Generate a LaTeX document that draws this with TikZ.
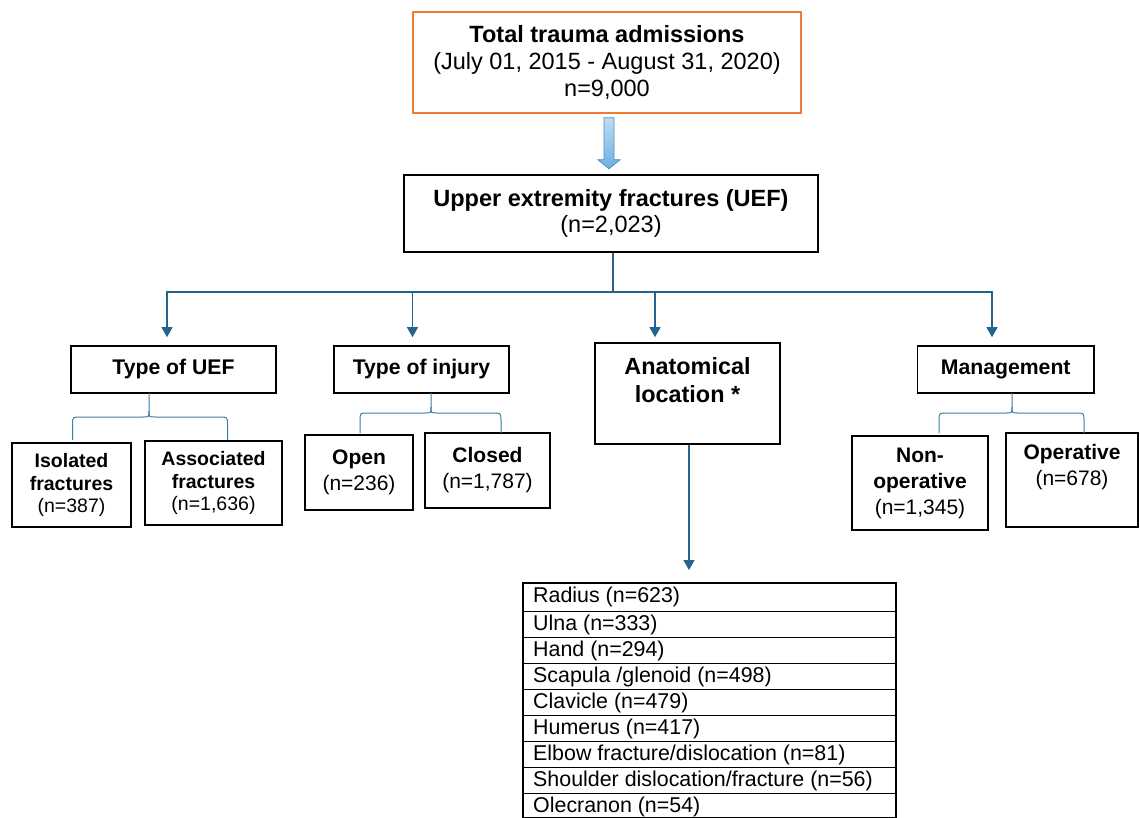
\documentclass[tikz,border=0pt]{standalone}
\usepackage{fontspec}
\setmainfont{Liberation Sans}
\usetikzlibrary{arrows.meta,calc}
\definecolor{conn}{RGB}{38,100,142}
\definecolor{brc}{RGB}{60,125,165}
\definecolor{orng}{HTML}{ED7D31}
\definecolor{arrtop}{HTML}{C2DCF2}
\definecolor{arrbot}{HTML}{6CB0E2}
\definecolor{arrdraw}{HTML}{4A90C8}
\newcommand{\mybrace}[6]{%
\draw[bracestyle] (#1,#6) -- (#1,#5+8) .. controls (#1,#5) .. (#1+8,#5) -- (#2-6,#5) .. controls (#2,#5) .. (#2,#5-6) -- (#2,#4);
\draw[bracestyle] (#3,#6) -- (#3,#5+8) .. controls (#3,#5) .. (#3-8,#5) -- (#2+6,#5) .. controls (#2,#5) .. (#2,#5-6);}
\begin{document}
\begin{tikzpicture}[x=1pt,y=-1pt,
 box/.style={draw=black,line width=1.6pt,align=center,inner sep=0pt},
 fbig/.style={font=\fontsize{23.5}{26.8}\selectfont},
 fhead/.style={font=\fontsize{21.2}{25}\selectfont},
 fmid/.style={font=\fontsize{21}{26}\selectfont},
 fleaf/.style={font=\fontsize{19.5}{22.8}\selectfont},
 ftab/.style={font=\fontsize{21.4}{25}\selectfont},
 line/.style={draw=conn,line width=1.2pt},
 arr/.style={line,-{Triangle[width=11pt,length=10pt]}},
 bracestyle/.style={draw=brc,line width=1pt},
 rowline/.style={draw=black,line width=1pt}
]
\fill[white] (0,0) rectangle (1140,818);
\useasboundingbox (0,0) rectangle (1140,818);

% top level
\node[box,draw=orng,line width=1.5pt,minimum width=388,minimum height=101,fbig] (top) at (607,62.5)
 {\textbf{Total trauma admissions}\\(July 01, 2015 - August 31, 2020)\\n=9,000};
\node[box,minimum width=414,minimum height=77,fbig] (uef) at (611,213.5)
 {\textbf{Upper extremity fractures (UEF)}\\(n=2,023)};

% block arrow
\shadedraw[top color=arrtop,bottom color=arrbot,draw=arrdraw,line width=0.8pt]
 ($(top.south)+(-3,4)$) -- ($(top.south)+(7,4)$) -- ($(top.south)+(7,46)$) -- ($(top.south)+(13,46)$)
 -- ($(top.south)+(2,55)$) -- ($(top.south)+(-9,46)$) -- ($(top.south)+(-3,46)$) -- cycle;

% category boxes
\node[box,minimum width=205,minimum height=47,fhead] (tuef) at (173.5,369.5) {\textbf{Type of UEF}};
\node[box,minimum width=175,minimum height=47,fhead] (tinj) at (421.5,369.5) {\textbf{Type of injury}};
\node[box,minimum width=185,minimum height=101] (anat) at (687.5,393.5) {};
\node[align=center,font=\fontsize{23.4}{28}\selectfont\bfseries] (anatt) at (687.5,380) {Anatomical\\location *};
\node[box,minimum width=176.5,minimum height=47,fhead] (mgmt) at (1005.75,369.5) {\textbf{Management}};

% leaf boxes
\node[box,minimum width=119,minimum height=84,fleaf] (iso) at (71.5,485) {\textbf{Isolated}\\\textbf{fractures}\\(n=387)};
\node[box,minimum width=137,minimum height=84,fleaf] (assoc) at (213.5,483) {\textbf{Associated}\\\textbf{fractures}\\(n=1,636)};
\node[box,minimum width=108,minimum height=75,fmid] (open) at (359,472.5) {\textbf{Open}\\(n=236)};
\node[box,minimum width=125,minimum height=75,fmid] (closed) at (487.5,470.5) {\textbf{Closed}\\(n=1,787)};
\node[box,minimum width=136,minimum height=94,fmid] (nonop) at (920,483) {\textbf{Non-}\\\textbf{operative}\\(n=1,345)};
\node[box,minimum width=132,minimum height=94] (oper) at (1072,480) {};
\node[fmid,align=center] (opert) at (1072,467.5) {\textbf{Operative}\\(n=678)};

% connectors
\coordinate (hub) at (613,292);
\draw[line] ([xshift=2pt]uef.south) -- (hub);
\draw[arr] (hub) -| ([xshift=-6.5pt,yshift=8pt]tuef.north);
\draw[arr] (hub) -| ([xshift=-9pt,yshift=8pt]tinj.north);
\draw[arr] (hub) -| ([xshift=-32.5pt,yshift=5pt]anat.north);
\draw[arr] (hub) -| ([xshift=-13.75pt,yshift=8pt]mgmt.north);

% braces: xl xc xr ytop ymid yend
\mybrace{72.5}{149}{227.5}{393}{417}{440}
\mybrace{360}{431}{501}{393}{413}{433}
\mybrace{939}{1012}{1084}{393}{413}{433}

% table
\foreach \yy in {611,637,663,689,715,741,767,793}
  \draw[rowline] (522,\yy) -- (895,\yy);
\node[draw=black,line width=2.4pt,minimum width=373,minimum height=235,anchor=north west,inner sep=0pt] (tab) at (522,582) {};
\foreach \t [count=\i] in {Radius (n=623),Ulna (n=333),Hand (n=294),Scapula /glenoid (n=498),Clavicle (n=479),Humerus (n=417),Elbow fracture/dislocation (n=81),Shoulder dislocation/fracture (n=56),Olecranon (n=54)}
  \node[ftab,anchor=west,inner sep=0pt] (row\i) at (533,{597+26*(\i-1)+(\i>1)*1.5}) {\t};

\draw[arr] ([xshift=1.5pt]anat.south) -- ([xshift=1.5pt,yshift=12pt]anat.south |- tab.north);
\end{tikzpicture}
\end{document}
